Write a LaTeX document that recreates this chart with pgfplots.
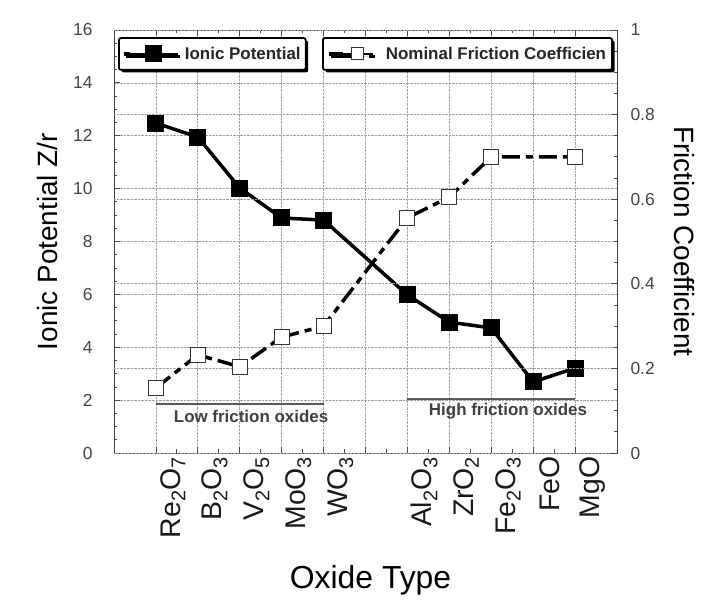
\documentclass[border=0pt]{standalone}
\usepackage{fontspec}
\setmainfont{Liberation Sans}
\usepackage{pgfplots}
\pgfplotsset{compat=1.18}
\usetikzlibrary{shadows}
\definecolor{tickgray}{HTML}{444444}
\definecolor{gridgray}{HTML}{A0A0A0}
\pgfplotstableread{
x  ionic
0  12.48
1  11.95
2  10.02
3  8.89
4  8.81
6  5.98
7  4.95
8  4.73
9  2.69
10 3.21
}\ionictable
\pgfplotstableread{
x  fric
0  0.154
1  0.232
2  0.204
3  0.274
4  0.300
6  0.556
7  0.605
8  0.700
10 0.700
}\frictable
\begin{document}
\begin{tikzpicture}
\useasboundingbox (0,0) rectangle (709bp,601bp);
\pgfplotsset{
  base/.style={
    scale only axis, width=503bp, height=423bp,
    at={(114bp,148bp)}, anchor=south west,
    xmin=-1, xmax=11,
    axis line style={draw=black!75, line width=0.8bp},
    major tick length=6bp, minor tick length=3.5bp,
    every tick/.style={black!70, line width=0.8bp},
    tick align=inside,
    major grid style={gridgray, densely dotted, line width=0.7bp},
    /pgf/number format/assume math mode=true,
    legend cell align=left,
  }
}
\begin{axis}[base,
  ymin=0, ymax=16, ytick={0,2,...,16}, minor y tick num=3, ytick pos=left,
  xtick={0,...,10}, minor x tick num=1, xtick pos=both,
  xticklabels={Re\textsubscript{2}O\textsubscript{7},B\textsubscript{2}O\textsubscript{3},V\textsubscript{2}O\textsubscript{5},MoO\textsubscript{3},WO\textsubscript{3},{},Al\textsubscript{2}O\textsubscript{3},ZrO\textsubscript{2},Fe\textsubscript{2}O\textsubscript{3},FeO,MgO},
  xticklabel style={rotate=90, anchor=east, font=\fontsize{28.5}{30}\selectfont, text=black!90, yshift=-17bp},
  yticklabel style={font=\fontsize{17.5}{19}\selectfont, text=tickgray, xshift=-18bp},
  xmajorgrids, ymajorgrids,
  xlabel={Oxide Type},
  xlabel style={font=\fontsize{32}{34}\selectfont, at={(axis description cs:0.51,-0.300)}, anchor=center},
  ylabel={Ionic Potential Z/r},
  ylabel style={font=\fontsize{28}{30}\selectfont, at={(axis description cs:-0.133,0.5)}, anchor=center},
  legend style={at={(axis description cs:0.008,0.983)}, anchor=north west,
    draw=black, line width=1.8bp, rounded corners=2bp, fill=white,
    font=\fontsize{17}{19}\selectfont\bfseries, text=black!85,
    inner xsep=3bp, inner ysep=7bp,
    /tikz/every odd column/.append style={column sep=4bp},
    drop shadow={shadow xshift=2.5bp, shadow yshift=-2.5bp, fill=black, opacity=1}},
  legend image code/.code={\path (-6bp,0bp) -- (0bp,0bp);\draw[mark repeat=2, mark phase=2, #1, line width=2.5bp] plot coordinates {(0bp,0bp) (24bp,0bp) (48bp,0bp)};},
]
\addplot[black, line width=3.5bp, mark=square*, mark size=8bp, mark options={solid, fill=black, line width=1bp}] table[x=x, y=ionic] {\ionictable};
\addlegendentry{Ionic Potential}
\draw[black!65, line width=2bp] (axis cs:0,1.85) -- (axis cs:4,1.85);
\draw[black!65, line width=2bp] (axis cs:6,2.04) -- (axis cs:10,2.04);
\node[font=\fontsize{17}{19}\selectfont\bfseries, text=black!75] at (axis cs:2.27,1.40) {Low friction oxides};
\node[font=\fontsize{17}{19}\selectfont\bfseries, text=black!75] at (axis cs:8.4,1.59) {High friction oxides};
\end{axis}
\begin{axis}[base,
  ymin=0, ymax=1, axis y line*=right, axis x line=none,
  ytick={0,0.2,0.4,0.6,0.8,1}, minor y tick num=3,
  ymajorgrids,
  yticklabel style={font=\fontsize{17.5}{19}\selectfont, text=tickgray, xshift=10bp},
  ylabel={Friction Coefficient},
  ylabel style={font=\fontsize{28}{30}\selectfont, rotate=180, at={(axis description cs:1.135,0.5)}, anchor=center},
  legend style={at={(axis description cs:0.992,0.983)}, anchor=north east,
    draw=black, line width=1.8bp, rounded corners=2bp, fill=white,
    font=\fontsize{17}{19}\selectfont\bfseries, text=black!85,
    inner xsep=4bp, inner ysep=7bp,
    /tikz/every odd column/.append style={column sep=10bp},
    drop shadow={shadow xshift=2.5bp, shadow yshift=-2.5bp, fill=black, opacity=1}},
  legend image code/.code={\path (-14bp,0bp) -- (0bp,0bp);\draw[mark repeat=2, mark phase=2, #1, line width=2.5bp, mark size=6bp, dash pattern=on 8bp off 4bp on 30bp off 0bp] plot coordinates {(0bp,0bp) (15bp,0bp) (30bp,0bp)};},
]
\addplot[black, line width=3.5bp, dash pattern=on 18bp off 6bp on 7bp off 6bp, mark=square*, mark size=7.5bp, mark options={solid, fill=white, draw=black!80, line width=1bp}] table[x=x, y=fric] {\frictable};
\addlegendentry{Nominal Friction Coefficien}
\end{axis}
\end{tikzpicture}
\end{document}
